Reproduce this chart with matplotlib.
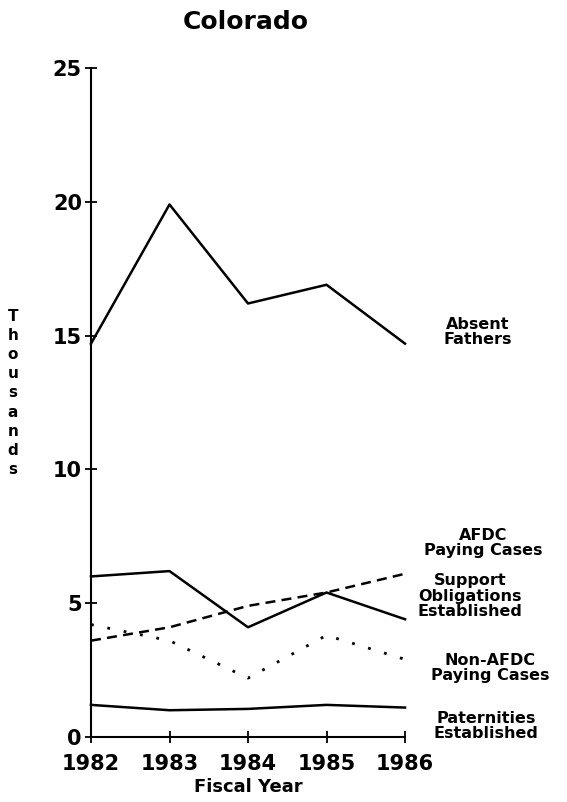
import matplotlib
matplotlib.use('Agg')
import matplotlib.pyplot as plt

years = [1982, 1983, 1984, 1985, 1986]
absent_fathers = [14.7, 19.9, 16.2, 16.9, 14.7]
afdc_paying = [6.0, 6.2, 4.1, 5.4, 4.4]
support_obligations = [3.6, 4.1, 4.9, 5.4, 6.1]
non_afdc_paying = [4.2, 3.6, 2.2, 3.8, 2.9]
paternities = [1.2, 1.0, 1.05, 1.2, 1.1]

y_ticks = [0, 5, 10, 15, 20, 25]

W, H = 567, 802


def fx(px):
    return px / W


def fy(py):
    return 1 - py / H


fig = plt.figure(figsize=(W / 100, H / 100), dpi=100)
ax = fig.add_axes([fx(91), fy(737), (405 - 91) / W, (737 - 68) / H])

ax.plot(years, absent_fathers, color='black', linewidth=1.8)
ax.plot(years, afdc_paying, color='black', linewidth=1.8)
ax.plot(years, support_obligations, color='black', linewidth=1.8,
        linestyle=(0, (4, 2.5)))
ax.plot(years, non_afdc_paying, color='black', linewidth=2.0,
        linestyle=(0, (1, 5)))
ax.plot(years, paternities, color='black', linewidth=1.8)

ax.set_xlim(1982, 1986)
ax.set_ylim(0, 25)
ax.set_xticks(years)
ax.set_yticks(y_ticks)
ax.set_xticklabels([str(y) for y in years], fontsize=15, fontweight='bold')
ax.set_yticklabels([str(v) for v in y_ticks], fontsize=15, fontweight='bold')
ax.tick_params(axis='both', direction='inout', length=9, width=1.3)
ax.tick_params(axis='x', pad=7.5)
ax.tick_params(axis='y', pad=2)
ax.spines['top'].set_visible(False)
ax.spines['right'].set_visible(False)
ax.spines['left'].set_linewidth(1.5)
ax.spines['bottom'].set_linewidth(1.5)
ax.patch.set_alpha(0)
for line in ax.get_lines():
    line.set_clip_on(False)

ax.set_xlabel("Fiscal Year", fontsize=13, fontweight='bold', labelpad=3)

fig.text(fx(246), fy(22), "Colorado", ha='center', va='center',
         fontsize=18, fontweight='bold')
fig.text(fx(13), fy(393), "\n".join("Thousands"), ha='center', va='center',
         fontsize=11, fontweight='bold', linespacing=1.35)

labels = [
    ("Absent\nFathers", 478, 332),
    ("AFDC\nPaying Cases", 483, 543),
    ("Support\nObligations\nEstablished", 470, 596),
    ("Non-AFDC\nPaying Cases", 490, 668),
    ("Paternities\nEstablished", 486, 726),
]
for text, px, py in labels:
    fig.text(fx(px), fy(py), text, ha='center', va='center',
             fontsize=11.5, fontweight='bold', linespacing=1.0)

fig.savefig("out.png", dpi=100)
